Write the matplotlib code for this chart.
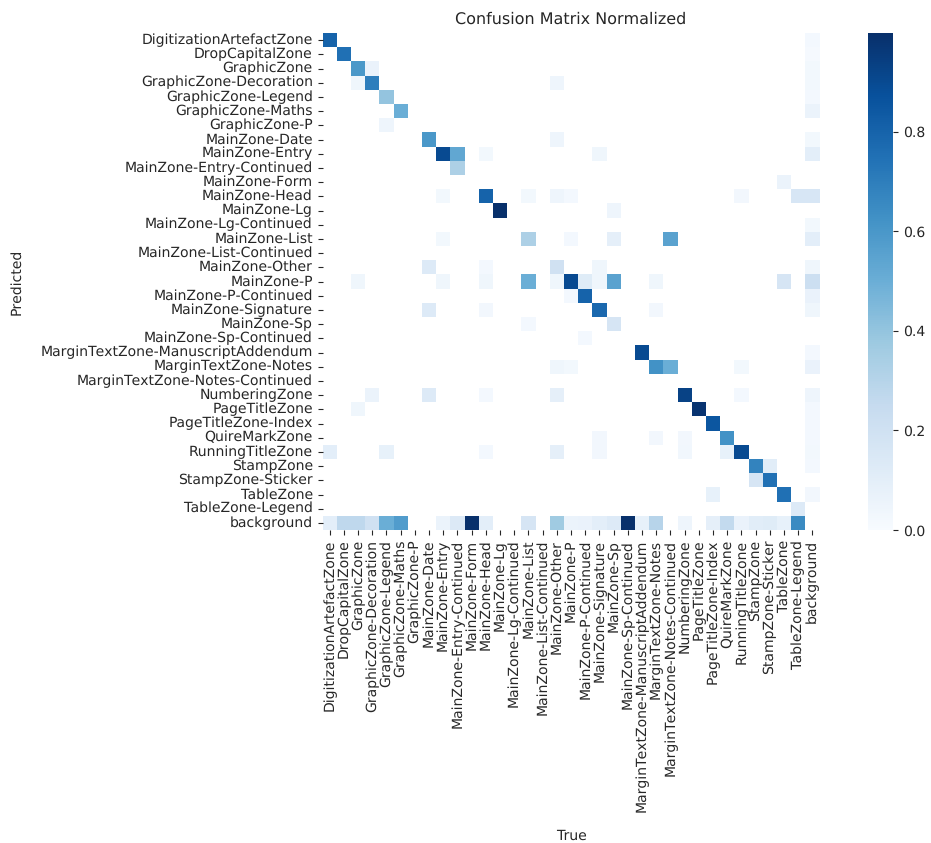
import matplotlib
matplotlib.use('Agg')
import matplotlib.pyplot as plt
import numpy as np
import seaborn as sns

plt.rcParams['text.hinting'] = 'no_hinting'
plt.rcParams['text.hinting_factor'] = 1

labels = [
    'DigitizationArtefactZone', 'DropCapitalZone', 'GraphicZone', 'GraphicZone-Decoration',
    'GraphicZone-Legend', 'GraphicZone-Maths', 'GraphicZone-P', 'MainZone-Date', 'MainZone-Entry',
    'MainZone-Entry-Continued', 'MainZone-Form', 'MainZone-Head', 'MainZone-Lg', 'MainZone-Lg-Continued',
    'MainZone-List', 'MainZone-List-Continued', 'MainZone-Other', 'MainZone-P', 'MainZone-P-Continued',
    'MainZone-Signature', 'MainZone-Sp', 'MainZone-Sp-Continued', 'MarginTextZone-ManuscriptAddendum',
    'MarginTextZone-Notes', 'MarginTextZone-Notes-Continued', 'NumberingZone', 'PageTitleZone',
    'PageTitleZone-Index', 'QuireMarkZone', 'RunningTitleZone', 'StampZone', 'StampZone-Sticker',
    'TableZone', 'TableZone-Legend', 'background',
]

# predicted row index -> {true column index: normalized value}, empty cells stay blank
rows = {
    0: {0: 0.80, 34: 0.02},
    1: {1: 0.75, 34: 0.015},
    2: {2: 0.60, 3: 0.07, 34: 0.025},
    3: {2: 0.04, 3: 0.70, 16: 0.05, 34: 0.025},
    4: {4: 0.40, 34: 0.02},
    5: {5: 0.50, 34: 0.06},
    6: {4: 0.05},
    7: {7: 0.60, 16: 0.05, 34: 0.025},
    8: {8: 0.90, 9: 0.53, 11: 0.025, 19: 0.04, 34: 0.10},
    9: {9: 0.33},
    10: {32: 0.06},
    11: {8: 0.025, 11: 0.80, 14: 0.025, 16: 0.05, 17: 0.02, 29: 0.03, 33: 0.16, 34: 0.16},
    12: {12: 0.998, 20: 0.05},
    13: {34: 0.025},
    14: {8: 0.025, 14: 0.33, 17: 0.02, 20: 0.09, 24: 0.55, 34: 0.10},
    16: {7: 0.13, 11: 0.02, 16: 0.20, 19: 0.04, 34: 0.04},
    17: {2: 0.04, 8: 0.04, 11: 0.04, 14: 0.50, 16: 0.04, 17: 0.90, 18: 0.12, 19: 0.04,
         20: 0.55, 23: 0.04, 32: 0.17, 34: 0.22},
    18: {17: 0.02, 18: 0.80, 34: 0.07},
    19: {7: 0.13, 11: 0.03, 19: 0.78, 23: 0.03, 34: 0.04},
    20: {14: 0.02, 20: 0.17},
    21: {18: 0.02},
    22: {22: 0.90, 34: 0.02},
    23: {16: 0.04, 17: 0.025, 23: 0.62, 24: 0.50, 29: 0.025, 34: 0.07},
    25: {3: 0.06, 7: 0.13, 11: 0.02, 16: 0.09, 25: 0.93, 29: 0.02, 34: 0.05},
    26: {2: 0.04, 26: 0.98, 34: 0.02},
    27: {27: 0.85, 34: 0.02},
    28: {19: 0.03, 23: 0.03, 25: 0.03, 28: 0.62, 34: 0.02},
    29: {0: 0.10, 4: 0.08, 11: 0.02, 16: 0.09, 19: 0.03, 25: 0.035, 28: 0.08, 29: 0.90, 34: 0.025},
    30: {30: 0.68, 31: 0.11, 34: 0.02},
    31: {30: 0.17, 31: 0.75},
    32: {27: 0.08, 32: 0.75, 34: 0.03},
    33: {33: 0.13},
    34: {0: 0.10, 1: 0.27, 2: 0.27, 3: 0.20, 4: 0.50, 5: 0.58, 8: 0.06, 9: 0.14, 10: 0.998,
         11: 0.10, 14: 0.17, 16: 0.37, 17: 0.06, 18: 0.07, 19: 0.10, 20: 0.13, 21: 0.998,
         22: 0.08, 23: 0.30, 25: 0.05, 27: 0.09, 28: 0.26, 29: 0.07, 30: 0.11, 31: 0.12,
         32: 0.08, 33: 0.65},
}

matrix = np.full((len(labels), len(labels)), np.nan)
for r, cols in rows.items():
    for c, v in cols.items():
        matrix[r, c] = v

TEXT = '#262626'
W, H = 931, 843
fig = plt.figure(figsize=(W / 100, H / 100), dpi=100)
ax = fig.add_axes([322.5 / W, 1 - 530 / H, 497 / W, 497 / H])
cax = fig.add_axes([867.5 / W, 1 - 530 / H, 25.5 / W, 497 / H])

sns.heatmap(matrix, ax=ax, cbar_ax=cax, cmap='Blues', vmin=0.0, square=True,
            xticklabels=labels, yticklabels=labels, linewidths=0)
ax.set_facecolor((1, 1, 1))
ax.tick_params(axis='both', labelsize=10.15, length=3.5, width=0.8, color=TEXT, labelcolor=TEXT)
ax.tick_params(axis='x', labelrotation=90)
ax.tick_params(axis='y', labelrotation=0)
cax.tick_params(labelsize=10.15, length=3.5, width=0.8, color=TEXT, labelcolor=TEXT)

fig.text(570.5 / W, 1 - 19 / H, 'Confusion Matrix Normalized', ha='center', va='center',
         fontsize=11.5, color=TEXT)
fig.text(571 / W, 1 - 835.5 / H, 'True', ha='center', va='center', fontsize=10.15, color=TEXT)
fig.text(17 / W, 1 - 282 / H, 'Predicted', ha='center', va='center', rotation=90,
         fontsize=10.15, color=TEXT)

plt.savefig('out.png', dpi=100)
